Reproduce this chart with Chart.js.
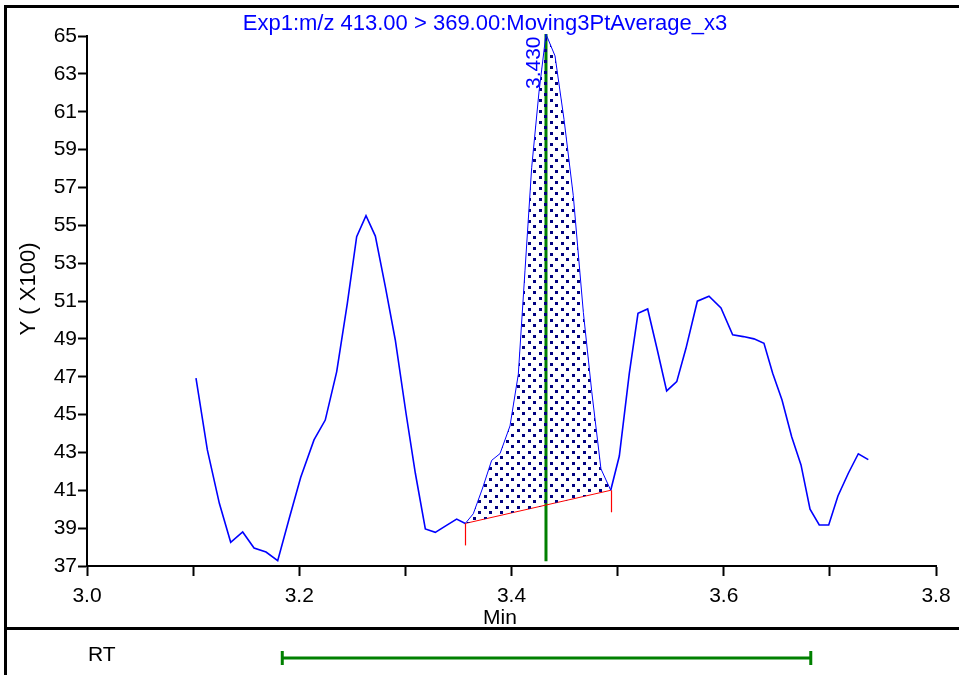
<!DOCTYPE html>
<html>
<head>
<meta charset="utf-8">
<script src="https://cdn.jsdelivr.net/npm/chart.js@4.4.1/dist/chart.umd.min.js"></script>
<style>
  html, body { margin: 0; padding: 0; background: #fff; }
  #wrap { width: 959px; height: 675px; }
</style>
</head>
<body>
<div id="wrap"><canvas id="chart-xic" width="959" height="675"></canvas></div>
<script>
// retention time (min) and intensity (x100)
const times = [
    3.1027, 3.1134, 3.1247, 3.1354, 3.1467, 3.1574, 3.1687, 3.1797, 3.1906, 3.2014,
    3.2139, 3.2245, 3.2353, 3.2453, 3.2541, 3.2629, 3.2717, 3.2811, 3.2905, 3.3006,
    3.3094, 3.3188, 3.3282, 3.3380, 3.3483, 3.3565, 3.3640, 3.3728, 3.3813, 3.3892,
    3.3986, 3.4064, 3.4127, 3.4190, 3.4259, 3.4325, 3.4410, 3.4495, 3.4582, 3.4677,
    3.4756, 3.4843, 3.4935, 3.5016, 3.5110, 3.5192, 3.5283, 3.5374, 3.5462, 3.5557,
    3.5644, 3.5751, 3.5861, 3.5974, 3.6084, 3.6184, 3.6285, 3.6379, 3.6461, 3.6549,
    3.6640, 3.6728, 3.6813, 3.6900, 3.6989, 3.7076, 3.7174, 3.7268, 3.7362
];
const values = [
    46.92, 43.13, 40.31, 38.25, 38.80, 37.95, 37.74, 37.28, 39.52, 41.69,
    43.66, 44.71, 47.27, 50.88, 54.40, 55.51, 54.43, 51.76, 48.94, 45.07,
    41.90, 38.96, 38.78, 39.12, 39.48, 39.25, 39.76, 41.12, 42.58, 42.94,
    44.40, 47.12, 52.59, 58.04, 62.04, 65.10, 63.95, 60.59, 56.58, 50.40,
    46.22, 42.13, 41.00, 42.81, 47.18, 50.35, 50.58, 48.41, 46.25, 46.74,
    48.50, 50.99, 51.25, 50.63, 49.21, 49.12, 49.00, 48.77, 47.18, 45.77,
    43.83, 42.34, 40.00, 39.17, 39.17, 40.70, 41.90, 42.93, 42.62
];

// integration baseline (start / end)
const baseTimes = [3.3565, 3.4935];
const baseValues = [39.25, 41.00];

// apex marker
const apexTime = 3.4325;
const apexSpan = [65.1, 37.25];
const apexLabel = '3.430';

// RT window shown in the lower strip
const rtRange = [3.184, 3.682];

const xLabels = ['3.0', '3.2', '3.4', '3.6', '3.8'];
const titleText = 'Exp1:m/z 413.00 > 369.00:Moving3PtAverage_x3';

const FONT = '"Liberation Sans", Arial, sans-serif';
const BLUE = 'rgb(0, 0, 255)';
const GREEN = 'rgb(0, 128, 0)';
const RED = 'rgb(255, 0, 0)';

// dotted fill for the integrated area
function dotPattern() {
    const c = document.createElement('canvas');
    c.width = 11;
    c.height = 11;
    const g = c.getContext('2d');
    g.fillStyle = '#000080';
    g.fillRect(0, 0, 3, 3);
    g.fillRect(5, 5, 3, 3);
    return g.createPattern(c, 'repeat');
}

const pts = times.map((t, i) => ({x: t, y: values[i]}));
const peakPts = pts.filter(p => p.x >= baseTimes[0] && p.x <= baseTimes[1]);
const basePts = baseTimes.map((t, i) => ({x: t, y: baseValues[i]}));
const apexPts = apexSpan.map(v => ({x: apexTime, y: v}));

const inPeak = (ctx) =>
    ctx.p0.parsed.x >= baseTimes[0] && ctx.p1.parsed.x <= baseTimes[1];

const decorations = {
    id: 'decorations',
    afterDraw(chart) {
        const ctx = chart.ctx;
        const xs = chart.scales.x;
        const ys = chart.scales.y;
        ctx.save();

        // frame
        ctx.fillStyle = '#000';
        ctx.fillRect(4, 5, 955, 3);
        ctx.fillRect(4, 5, 3, 670);
        ctx.fillRect(4, 627, 955, 3);

        // title
        ctx.font = '22px ' + FONT;
        ctx.fillStyle = BLUE;
        ctx.textAlign = 'center';
        ctx.textBaseline = 'alphabetic';
        ctx.fillText(titleText, 485, 30);

        // apex label
        ctx.font = '21px ' + FONT;
        const ax = xs.getPixelForValue(apexTime);
        ctx.save();
        ctx.translate(ax - 6, 89);
        ctx.rotate(-Math.PI / 2);
        ctx.textAlign = 'left';
        ctx.fillText(apexLabel, 0, 0);
        ctx.restore();

        // axis titles
        ctx.fillStyle = '#000';
        ctx.save();
        ctx.translate(35, 289);
        ctx.rotate(-Math.PI / 2);
        ctx.textAlign = 'center';
        ctx.font = '22px ' + FONT;
        ctx.fillText('Y ( X100)', 0, 0);
        ctx.restore();
        ctx.textAlign = 'center';
        ctx.fillText('Min', 500, 624);

        // baseline end ticks
        ctx.strokeStyle = RED;
        ctx.lineWidth = 1.2;
        baseTimes.forEach((t, i) => {
            const px = Math.round(xs.getPixelForValue(t)) + 0.5;
            const py = ys.getPixelForValue(baseValues[i]);
            ctx.beginPath();
            ctx.moveTo(px, py);
            ctx.lineTo(px, py + 22);
            ctx.stroke();
        });

        // RT strip
        ctx.fillStyle = '#000';
        ctx.textAlign = 'left';
        ctx.fillText('RT', 88, 661);
        const r0 = xs.getPixelForValue(rtRange[0]);
        const r1 = xs.getPixelForValue(rtRange[1]);
        ctx.fillStyle = GREEN;
        ctx.fillRect(r0, 656.5, r1 - r0, 3);
        ctx.fillRect(r0 - 1.5, 651, 3, 14);
        ctx.fillRect(r1 - 1.5, 651, 3, 14);

        ctx.restore();
    }
};

const config_xic = {
    type: 'line',
    data: {
        datasets: [{
            label: 'XIC',
            data: pts,
            borderColor: BLUE,
            borderWidth: 1.6,
            pointRadius: 0,
            tension: 0,
            fill: false,
            clip: false,
            segment: {
                borderWidth: ctx => inPeak(ctx) ? 1 : 1.6
            }
        },
        {
            label: 'Peak',
            data: peakPts,
            borderColor: 'rgba(0, 0, 0, 0)',
            borderWidth: 0,
            pointRadius: 0,
            tension: 0,
            backgroundColor: dotPattern(),
            fill: '+1',
            clip: false
        },
        {
            label: 'Baseline',
            data: basePts,
            borderColor: RED,
            borderWidth: 1,
            pointRadius: 0,
            fill: false
        },
        {
            label: 'Apex',
            data: apexPts,
            borderColor: GREEN,
            borderWidth: 3,
            pointRadius: 0,
            fill: false,
            clip: false
        }]
    },
    options: {
        responsive: false,
        animation: false,
        events: [],
        layout: {
            padding: {top: 36, right: 23, left: 0, bottom: 0}
        },
        plugins: {
            legend: {display: false},
            title: {display: false},
            tooltip: {enabled: false}
        },
        scales: {
            x: {
                type: 'linear',
                min: 3.0,
                max: 3.8,
                border: {display: true, color: '#000', width: 2},
                grid: {
                    drawOnChartArea: false,
                    drawTicks: true,
                    tickLength: 10,
                    tickWidth: 2,
                    tickColor: '#000'
                },
                ticks: {
                    stepSize: 0.1,
                    autoSkip: false,
                    maxRotation: 0,
                    padding: 8,
                    color: '#000',
                    font: {family: FONT, size: 21},
                    callback: v => {
                        const s = v.toFixed(1);
                        return xLabels.includes(s) ? s : '';
                    }
                },
                afterFit: s => { s.height = 109; }
            },
            y: {
                min: 37,
                max: 65,
                border: {display: true, color: '#000', width: 2},
                grid: {
                    drawOnChartArea: false,
                    drawTicks: true,
                    tickLength: 9,
                    tickWidth: 2,
                    tickColor: '#000'
                },
                ticks: {
                    stepSize: 2,
                    padding: 1,
                    color: '#000',
                    font: {family: FONT, size: 21}
                },
                afterFit: s => { s.width = 87; }
            }
        }
    },
    plugins: [decorations]
};

var chart_xic = new Chart(
    document.getElementById('chart-xic'),
    config_xic
);
</script>
</body>
</html>
